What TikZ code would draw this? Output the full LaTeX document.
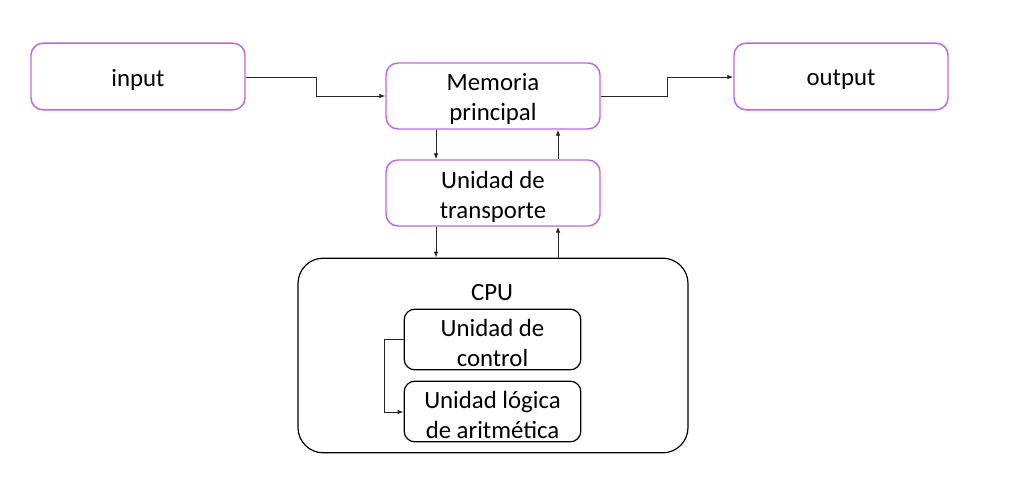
\documentclass[tikz,border=0pt]{standalone}
\usepackage{fontspec}
\setmainfont{Carlito}
\usetikzlibrary{arrows.meta,calc}
\definecolor{boxpurple}{RGB}{188,104,226}
\tikzset{
  pbox/.style={draw=boxpurple, line width=1.1pt, rounded corners=9pt, align=center, inner sep=0pt},
  kbox/.style={draw=black, line width=0.9pt, rounded corners=8pt, align=center, inner sep=0pt},
  conn/.style={draw=black!85, line width=0.7pt, -{Latex[length=4.5pt,width=3.5pt]}},
  lbl/.style={font=\fontsize{18.6pt}{22.5pt}\selectfont, align=center, yshift=-2.6pt}
}
\begin{document}
\begin{tikzpicture}[x=0.75pt,y=-0.75pt]
\useasboundingbox (0,0) rectangle (1009,488);
% boxes
\node[pbox, minimum width=160.5pt, minimum height=50pt] (in) at (138,76.5) {};
\node[lbl] at (in) {input};
\node[pbox, minimum width=160.5pt, minimum height=49.5pt] (mem) at (493,96) {};
\node[lbl] at (mem) {Memoria\\principal};
\node[pbox, minimum width=160.5pt, minimum height=50pt] (out) at (841,76.5) {};
\node[lbl] at (out) {output};
\node[pbox, minimum width=160.5pt, minimum height=49.5pt] (tr) at (493,193) {};
\node[lbl] at (tr) {Unidad de\\transporte};
\node[kbox, rounded corners=19pt, minimum width=292.5pt, minimum height=146pt] (cpu) at (493,355.5) {};
\node[lbl] (cpulbl) at (492,289) {CPU};
\node[kbox, minimum width=132.5pt, minimum height=45.5pt] (cu) at (492.5,339.5) {};
\node[lbl] at (cu) {Unidad de\\control};
\node[kbox, minimum width=132.5pt, minimum height=45.5pt] (alu) at (492.5,411.5) {};
\node[lbl] at (alu) {Unidad lógica\\de aritmética};
% connectors
\coordinate (a1) at (316,77);
\coordinate (a2) at (316,96);
\draw[conn] (in.east |- 0,77) -- (a1) -- (a2) -- (mem.west |- 0,96);
\coordinate (b1) at (667,96);
\coordinate (b2) at (667,77);
\draw[conn] (mem.east |- 0,96) -- (b1) -- (b2) -- (out.west |- 0,77);
\draw[conn] (mem.south -| 436,0) -- (tr.north -| 436,0);
\draw[conn] (tr.north -| 558,0) -- (mem.south -| 558,0);
\draw[conn] (tr.south -| 436,0) -- (cpu.north -| 436,0);
\draw[conn] (cpu.north -| 558,0) -- (tr.south -| 558,0);
\coordinate (c1) at (384,339);
\coordinate (c2) at (384,412);
\draw[conn] (cu.west |- 0,339) -- (c1) -- (c2) -- (alu.west |- 0,412);
\end{tikzpicture}
\end{document}
